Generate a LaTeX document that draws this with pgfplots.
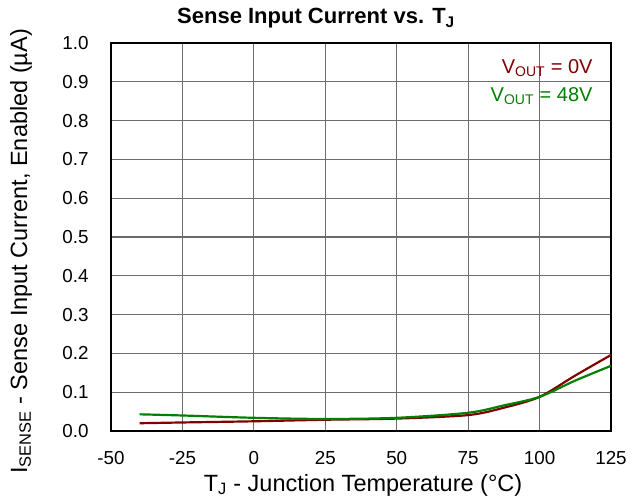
\documentclass[border=0pt]{standalone}
\usepackage{fontspec}
\setmainfont{Liberation Sans}
\usepackage{pgfplots}
\pgfplotsset{compat=1.18}
\definecolor{cred}{RGB}{128,0,0}
\definecolor{cgreen}{RGB}{0,128,0}
\begin{document}
\begin{tikzpicture}
\begin{axis}[
  scale only axis,
  width=500bp, height=388bp,
  xmin=-50, xmax=125, ymin=0, ymax=1.0,
  xtick={-50,-25,0,25,50,75,100,125},
  xticklabels={-50,-25,0,25,50,75,100,125},
  ytick={0,0.1,0.2,0.3,0.4,0.5,0.6,0.7,0.8,0.9,1.0},
  yticklabels={0.0,0.1,0.2,0.3,0.4,0.5,0.6,0.7,0.8,0.9,1.0},
  grid=major,
  major grid style={draw=gray!85!black, line width=1.1pt},
  axis line style={black, line width=1.2pt},
  major tick length=0pt,
  xticklabel style={font=\fontsize{18.8bp}{21bp}\selectfont, anchor=center, yshift=-27bp},
  yticklabel style={font=\fontsize{18.8bp}{21bp}\selectfont, anchor=east, xshift=-19bp},
  title={\textbf{Sense Input Current vs. T\textsubscript{J}}},
  title style={font=\fontsize{22bp}{24bp}\selectfont, at={(axis description cs:0.41,1.0)}, anchor=south, yshift=5bp},
  xlabel={T\textsubscript{J} - Junction Temperature (°C)},
  ylabel={I\textsubscript{SENSE} - Sense Input Current, Enabled (µA)},
  xlabel style={font=\fontsize{23.5bp}{25bp}\selectfont, at={(axis description cs:0.504,-0.139)}, anchor=center},
  ylabel style={font=\fontsize{23.5bp}{25bp}\selectfont, at={(axis description cs:-0.18,0.463)}, anchor=center},
]
\coordinate (O) at (rel axis cs:0,0);
\addplot[cred, line width=2.2pt, smooth] coordinates {
(-40,0.020) (-25,0.022) (0,0.025) (25,0.029) (50,0.032) (75,0.041) (87.5,0.060) (100,0.088) (112.5,0.143) (125,0.196)
};
\addplot[cgreen, line width=2.2pt, smooth] coordinates {
(-40,0.043) (-25,0.040) (0,0.034) (25,0.031) (50,0.034) (75,0.047) (87.5,0.066) (100,0.088) (112.5,0.130) (125,0.168)
};
\node[anchor=east, text=cred, font=\fontsize{20bp}{22bp}\selectfont] at (rel axis cs:0.970,0.936) {V\textsubscript{OUT} = 0V};
\node[anchor=east, text=cgreen, font=\fontsize{20bp}{22bp}\selectfont] at (rel axis cs:0.970,0.864) {V\textsubscript{OUT} = 48V};
\end{axis}
\path[use as bounding box] (O) ++(-111bp,-71bp) rectangle ++(641bp,502bp);
\end{tikzpicture}
\end{document}
